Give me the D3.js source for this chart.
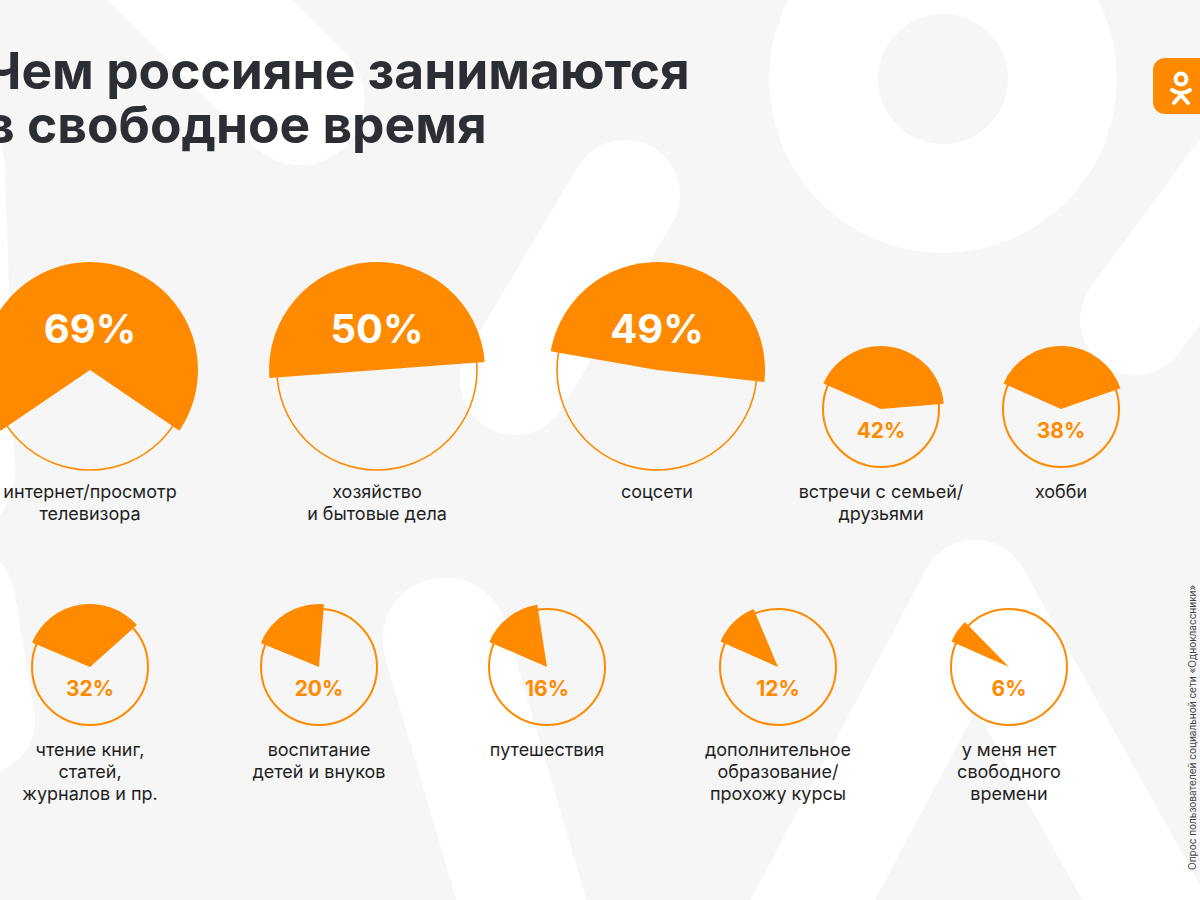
<!DOCTYPE html>
<html><head><meta charset="utf-8">
<script src="https://cdn.jsdelivr.net/npm/d3@7"></script>
<style>
html,body{margin:0;padding:0;background:#f6f6f6;overflow:hidden;}
svg{display:block;}
</style></head><body>
<svg id="chart" width="1200" height="900"></svg>
<script>
// ---- data ----
const titleLines = ["Чем россияне занимаются", "в свободное время"];
const categories = [
  ["интернет/просмотр", "телевизора"],
  ["хозяйство", "и бытовые дела"],
  ["соцсети"],
  ["встречи с семьей/", "друзьями"],
  ["хобби"],
  ["чтение книг,", "статей,", "журналов и пр."],
  ["воспитание", "детей и внуков"],
  ["путешествия"],
  ["дополнительное", "образование/", "прохожу курсы"],
  ["у меня нет", "свободного", "времени"]
];
const values = [69, 50, 49, 42, 38, 32, 20, 16, 12, 6];
const sourceNote = "Опрос пользователей социальной сети «Одноклассники»";

// ---- layout ----
const startDeg = [-124.2, -94.2, -80, -66, -66, -67, -67.5, -66.5, -66, -66];
const centerX = [90, 377, 657, 881, 1061, 90, 319, 547, 778, 1009];
const centerY = [370, 370, 370, 409, 409, 667, 667, 667, 667, 667];
const labelY0 = [498, 498, 498, 498, 498, 756, 756, 756, 756, 756];
const isBig = [true, true, true, false, false, false, false, false, false, false];

const ORANGE = "#ff8a00";
const FONT = "Inter, 'Noto Sans', sans-serif";

const svg = d3.select("#chart");
svg.append("rect").attr("width", 1200).attr("height", 900).attr("fill", "#f6f6f6");

// ---- background decorative shapes ----
const bg = svg.append("g").attr("fill", "none").attr("stroke", "#ffffff").attr("stroke-linecap", "round");
bg.append("circle").attr("cx", 943).attr("cy", 79).attr("r", 119.5).attr("stroke-width", 109);
const bands = [
  [[140, -60], [300, 100], 130],
  [[625, 195], [515, 380], 110],
  [[1260, 150], [1135, 320], 110],
  [[445, 640], [545, 980], 125],
  [[975, 595], [770, 980], 110],
  [[975, 595], [1190, 980], 110],
  [[-70, 170], [-60, 470], 150],
  [[-40, 600], [-20, 720], 110]
];
bands.forEach(b => {
  bg.append("path").attr("d", d3.line()([b[0], b[1]])).attr("stroke-width", b[2]);
});

// ---- title ----
const title = svg.append("g").attr("font-family", FONT).attr("font-weight", 700).attr("fill", "#2b2f33");
const t1 = title.append("text").attr("x", -15).attr("y", 89).attr("font-size", 48).text(titleLines[0]);
const w1 = t1.node().getComputedTextLength();
const fs = 48 * 705 / w1;
t1.attr("font-size", fs);
title.append("text").attr("x", -15).attr("y", 143).attr("font-size", fs).text(titleLines[1]);

// ---- logo ----
const logo = svg.append("g");
logo.append("rect").attr("x", 1153).attr("y", 58).attr("width", 62).attr("height", 56).attr("rx", 12).attr("fill", ORANGE);
logo.append("circle").attr("cx", 1181).attr("cy", 79).attr("r", 5.5).attr("fill", "none").attr("stroke", "#fff").attr("stroke-width", 4);
logo.append("path").attr("d", "M1172,90 Q1181,96 1190,90").attr("fill", "none").attr("stroke", "#fff").attr("stroke-width", 4).attr("stroke-linecap", "round");
logo.append("path").attr("d", "M1174,103 L1181,95 L1188,103").attr("fill", "none").attr("stroke", "#fff").attr("stroke-width", 4).attr("stroke-linecap", "round").attr("stroke-linejoin", "round");

// ---- charts ----
const angle = d3.scaleLinear().domain([0, 100]).range([0, 2 * Math.PI]);
const arc = d3.arc();

values.forEach((v, i) => {
  const big = isBig[i];
  const r = big ? 100 : 58;
  const R = big ? 108 : 63;
  const g = svg.append("g").attr("transform", `translate(${centerX[i]},${centerY[i]})`);
  g.append("circle").attr("r", r).attr("fill", "none").attr("stroke", ORANGE).attr("stroke-width", big ? 1.6 : 2);
  const s = startDeg[i] * Math.PI / 180;
  g.append("path")
    .attr("d", arc({innerRadius: 0, outerRadius: R, startAngle: s, endAngle: s + angle(v)}))
    .attr("fill", ORANGE);
  g.append("text")
    .attr("x", 0)
    .attr("y", big ? -27 : 29)
    .attr("text-anchor", "middle")
    .attr("font-family", FONT)
    .attr("font-weight", 700)
    .attr("font-size", big ? 40 : 21)
    .attr("fill", big ? "#ffffff" : ORANGE)
    .text(v + "%");
  const lab = svg.append("text")
    .attr("text-anchor", "middle")
    .attr("font-family", FONT)
    .attr("font-size", 18)
    .attr("fill", "#1f1f1f");
  categories[i].forEach((line, k) => {
    lab.append("tspan").attr("x", centerX[i]).attr("y", labelY0[i] + k * 22).text(line);
  });
});

// ---- side note ----
svg.append("text")
  .attr("transform", "translate(1196,870) rotate(-90)")
  .attr("font-family", FONT)
  .attr("font-size", 10)
  .attr("fill", "#444")
  .text(sourceNote);
</script>
</body></html>
